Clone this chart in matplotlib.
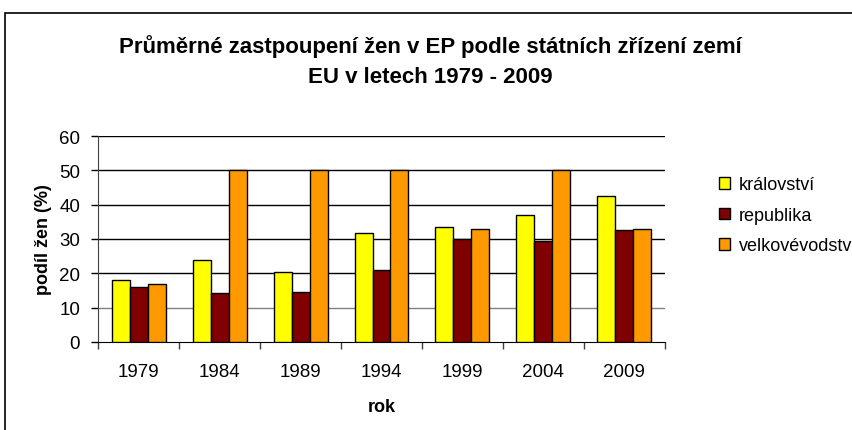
import numpy as np
import matplotlib
matplotlib.use("Agg")
import matplotlib.pyplot as plt
from matplotlib.patches import Rectangle

plt.rcParams['font.family'] = ['Liberation Sans', 'DejaVu Sans']

years = ['1979', '1984', '1989', '1994', '1999', '2004', '2009']
kralovstvi = [18.1, 24.0, 20.5, 31.7, 33.4, 37.1, 42.4]
republika = [16.0, 14.2, 14.6, 20.9, 30.0, 29.5, 32.7]
velkovevodstvi = [16.9, 50.0, 50.0, 50.0, 33.0, 50.0, 33.0]

series = [('království', kralovstvi, '#FFFF00'),
          ('republika', republika, '#800000'),
          ('velkovévodstv', velkovevodstvi, '#FF9900')]

fig = plt.figure(figsize=(8.53, 4.31), dpi=100)
# outer chart frame (only top/left visible in the source)
fig.patches.append(Rectangle((5/853, -0.1), 1.2, 1 - 14/431 + 0.1,
                             transform=fig.transFigure, fill=False,
                             edgecolor='black', lw=1.2))

ax = fig.add_axes([98.3/853, 1 - 343/431, (664.7 - 98.3)/853, (343 - 137)/431])

x = np.arange(len(years))
w = 1 / 4.5
for i, (name, vals, col) in enumerate(series):
    ax.bar(x + (i - 1) * w, vals, width=w, color=col, edgecolor='black',
           lw=1, label=name, zorder=3)

ax.set_xlim(-0.5, len(years) - 0.5)
ax.set_ylim(0, 60)
ax.set_yticks(range(0, 61, 10))
for v in range(10, 61, 10):
    ax.axhline(v, color='#808080' if v == 10 else 'black', lw=1, zorder=1)

ax.set_xticks(x)
ax.set_xticklabels(years, fontsize=13.5)
ax.set_xticks(np.arange(-0.5, len(years)), minor=True)
ax.tick_params(axis='x', which='major', length=0, pad=15)
ax.tick_params(axis='x', which='minor', length=5, width=1, color='#404040')
ax.tick_params(axis='y', labelsize=13.5, length=5, width=1, pad=8)

for s in ['top', 'right']:
    ax.spines[s].set_visible(False)
ax.spines['left'].set_color('#404040')
ax.spines['bottom'].set_color('black')

ax.set_xlabel('rok', fontsize=13, fontweight='bold', labelpad=13)
ax.set_ylabel('podíl žen (%)', fontsize=13, fontweight='bold', labelpad=5)

fig.text(430/853, 1 - 61.5/431,
         'Průměrné zastpoupení žen v EP podle státních zřízení zemí\nEU v letech 1979 - 2009',
         ha='center', va='center', fontsize=16, fontweight='bold', linespacing=1.6)

ax.legend(loc='upper left', bbox_to_anchor=(712/853, 1 - 170/431),
          bbox_transform=fig.transFigure, frameon=False, fontsize=13,
          handlelength=0.6, handleheight=0.6, handletextpad=0.5,
          labelspacing=0.75, borderaxespad=0)

fig.savefig('out.png', dpi=100)
